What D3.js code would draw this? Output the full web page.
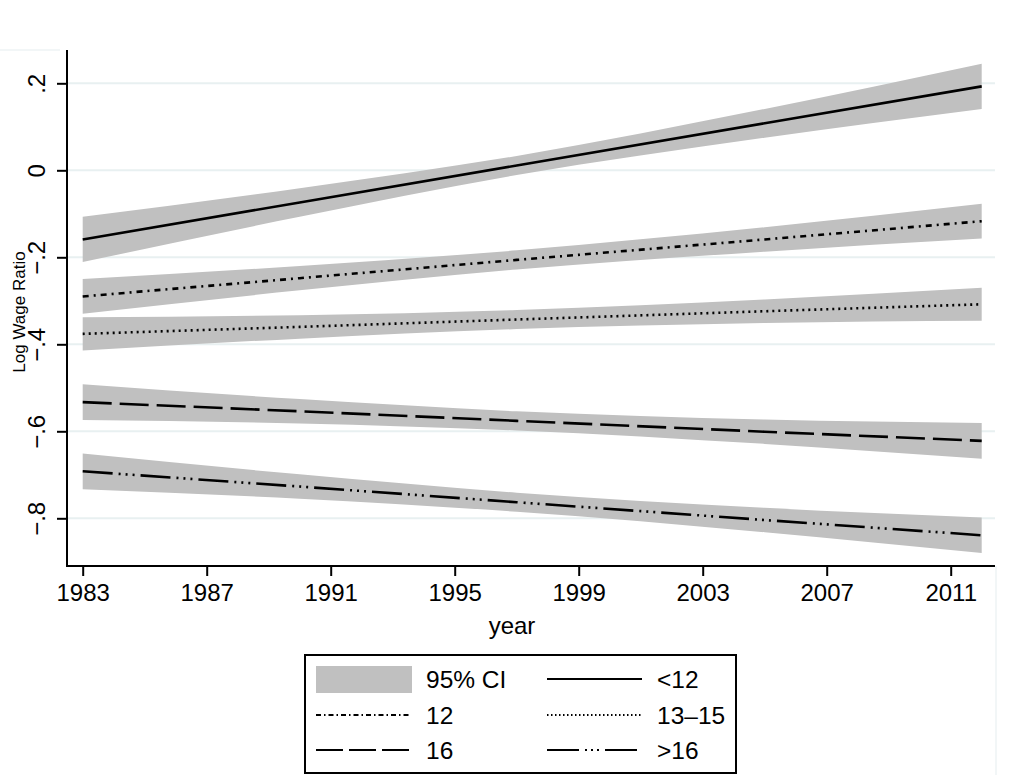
<!DOCTYPE html>
<html>
<head>
<meta charset="utf-8">
<script src="https://cdn.jsdelivr.net/npm/d3@7"></script>
<style>
  html, body { margin: 0; padding: 0; background: #fff; }
  svg { display: block; font-family: "Liberation Sans", Arial, Helvetica, sans-serif; }
</style>
</head>
<body>
<svg id="chart" width="1024" height="775"></svg>
<script>
// ---------------- data ----------------
const years = [1983, 1990, 1997, 2005, 2012];
const xTicks = [1983, 1987, 1991, 1995, 1999, 2003, 2007, 2011];
const yTicks = [0.2, 0, -0.2, -0.4, -0.6, -0.8];
const yTickLabels = [".2", "0", "\u2212.2", "\u2212.4", "\u2212.6", "\u2212.8"];

const seriesNames = ["<12", "12", "13\u201315", "16", ">16"];
const fitLt12   = [-0.159, -0.074, 0.011, 0.108, 0.193];
const lo_Lt12   = [-0.211, -0.107, -0.011, 0.075, 0.141];
const hi_Lt12   = [-0.107, -0.041, 0.033, 0.141, 0.245];

const fit12     = [-0.290, -0.248, -0.206, -0.159, -0.117];
const lo_12     = [-0.330, -0.276, -0.228, -0.187, -0.157];
const hi_12     = [-0.250, -0.220, -0.184, -0.131, -0.077];

const fit13_15  = [-0.376, -0.360, -0.343, -0.324, -0.308];
const lo_13_15  = [-0.414, -0.387, -0.365, -0.351, -0.346];
const hi_13_15  = [-0.338, -0.333, -0.321, -0.297, -0.270];

const fit16     = [-0.533, -0.554, -0.576, -0.601, -0.622];
const lo_16     = [-0.574, -0.582, -0.598, -0.629, -0.663];
const hi_16     = [-0.492, -0.526, -0.554, -0.573, -0.581];

const fitGt16   = [-0.692, -0.727, -0.763, -0.804, -0.839];
const lo_Gt16   = [-0.733, -0.755, -0.785, -0.832, -0.880];
const hi_Gt16   = [-0.651, -0.699, -0.741, -0.776, -0.798];

const fits = [fitLt12, fit12, fit13_15, fit16, fitGt16];
const los  = [lo_Lt12, lo_12, lo_13_15, lo_16, lo_Gt16];
const his  = [hi_Lt12, hi_12, hi_13_15, hi_16, hi_Gt16];

// ---------------- styles ----------------
const dashPlot   = [null, "6,5,2,5", "2,4", "29,8", "30,6,2,5,2,5,2,6"];
const dashLegend = [null, "5,3,1.5,3", "1.5,2.5", "27,6", "32,6,2,4,2,4,2,6"];
const bandColor = "#c0c0c0";
const gridColor = "#e8f0f1";

// ---------------- layout ----------------
const svg = d3.select("#chart");
const axisLeftX = 67, axisRightX = 995, axisTopY = 50, axisBottomY = 566;

const x = d3.scaleLinear().domain([1983, 2012]).range([82.7, 981.7]);
const y = d3.scaleLinear().domain([0.2, -0.8]).range([83.3, 518.3]);

// gridlines
svg.append("g").selectAll("line").data(yTicks).join("line")
  .attr("x1", axisLeftX).attr("x2", axisRightX)
  .attr("y1", d => y(d)).attr("y2", d => y(d))
  .attr("stroke", gridColor).attr("stroke-width", 2);

// faint outer region edges
svg.append("line").attr("x1", 0).attr("x2", 60).attr("y1", 50).attr("y2", 50)
  .attr("stroke", "#eef3f4").attr("stroke-width", 1.5);
svg.append("line").attr("x1", axisRightX + 1).attr("x2", axisRightX + 1).attr("y1", axisBottomY).attr("y2", 775)
  .attr("stroke", "#eef3f4").attr("stroke-width", 1.5);

// bands
const area = d3.area()
  .x((d, i) => x(years[i]))
  .y0(d => y(d[0]))
  .y1(d => y(d[1]))
  .curve(d3.curveMonotoneX);

const bandG = svg.append("g");
fits.forEach((f, s) => {
  const pts = years.map((yr, i) => [los[s][i], his[s][i]]);
  bandG.append("path").attr("d", area(pts)).attr("fill", bandColor).attr("stroke", "none");
});

// lines
const line = d3.line()
  .x((d, i) => x(years[i]))
  .y(d => y(d));
const lineG = svg.append("g");
fits.forEach((f, s) => {
  lineG.append("path").attr("d", line(f))
    .attr("fill", "none").attr("stroke", "#000").attr("stroke-width", 2.6)
    .attr("stroke-dasharray", dashPlot[s]);
});

// axes
const yAxis = d3.axisLeft(y).tickValues(yTicks).tickSize(10)
  .tickFormat((d, i) => yTickLabels[i]);
const yg = svg.append("g").attr("transform", `translate(${axisLeftX},0)`).call(yAxis);
yg.select(".domain").remove();
yg.selectAll(".tick line").attr("stroke", "#000").attr("stroke-width", 2);
yg.selectAll(".tick text")
  .attr("font-size", 24).attr("fill", "#000")
  .attr("x", null).attr("dy", null)
  .attr("text-anchor", "middle")
  .attr("transform", "translate(-22,0) rotate(-90)")
  .attr("y", 0);

const xAxis = d3.axisBottom(x).tickValues(xTicks).tickSize(10).tickFormat(d3.format("d"));
const xg = svg.append("g").attr("transform", `translate(0,${axisBottomY})`).call(xAxis);
xg.select(".domain").remove();
xg.selectAll(".tick line").attr("stroke", "#000").attr("stroke-width", 2);
xg.selectAll(".tick text").attr("font-size", 24).attr("fill", "#000")
  .attr("y", 35).attr("dy", null);

// axis lines
svg.append("line").attr("x1", axisLeftX).attr("x2", axisLeftX).attr("y1", axisTopY).attr("y2", axisBottomY + 1)
  .attr("stroke", "#000").attr("stroke-width", 2);
svg.append("line").attr("x1", axisLeftX - 1).attr("x2", axisRightX).attr("y1", axisBottomY).attr("y2", axisBottomY)
  .attr("stroke", "#000").attr("stroke-width", 2);

// axis titles
svg.append("text").text("Log Wage Ratio")
  .attr("transform", "translate(25,312) rotate(-90)")
  .attr("text-anchor", "middle").attr("font-size", 17).attr("fill", "#000");
svg.append("text").text("year")
  .attr("x", 512).attr("y", 634)
  .attr("text-anchor", "middle").attr("font-size", 24).attr("fill", "#000");

// legend
const lg = svg.append("g");
lg.append("rect").attr("x", 305).attr("y", 655).attr("width", 431).attr("height", 118)
  .attr("fill", "#fff").attr("stroke", "#000").attr("stroke-width", 2);

const legendItems = [
  { label: "95% CI", col: 0, row: 0, type: "band" },
  { label: seriesNames[0], col: 1, row: 0, type: "line", s: 0 },
  { label: seriesNames[1], col: 0, row: 1, type: "line", s: 1 },
  { label: seriesNames[2], col: 1, row: 1, type: "line", s: 2 },
  { label: seriesNames[3], col: 0, row: 2, type: "line", s: 3 },
  { label: seriesNames[4], col: 1, row: 2, type: "line", s: 4 }
];
const colX = [316, 547];
const rowY = [679, 715, 750];
legendItems.forEach(it => {
  const x0 = colX[it.col], yc = rowY[it.row];
  if (it.type === "band") {
    lg.append("rect").attr("x", x0).attr("y", yc - 13).attr("width", 96).attr("height", 27)
      .attr("fill", bandColor);
  } else {
    lg.append("line").attr("x1", x0).attr("x2", x0 + 95).attr("y1", yc).attr("y2", yc)
      .attr("stroke", "#000").attr("stroke-width", 2.2)
      .attr("stroke-dasharray", dashLegend[it.s]);
  }
  lg.append("text").text(it.label)
    .attr("x", x0 + 110).attr("y", yc + 9)
    .attr("font-size", 24.5).attr("fill", "#000");
});
</script>
</body>
</html>
